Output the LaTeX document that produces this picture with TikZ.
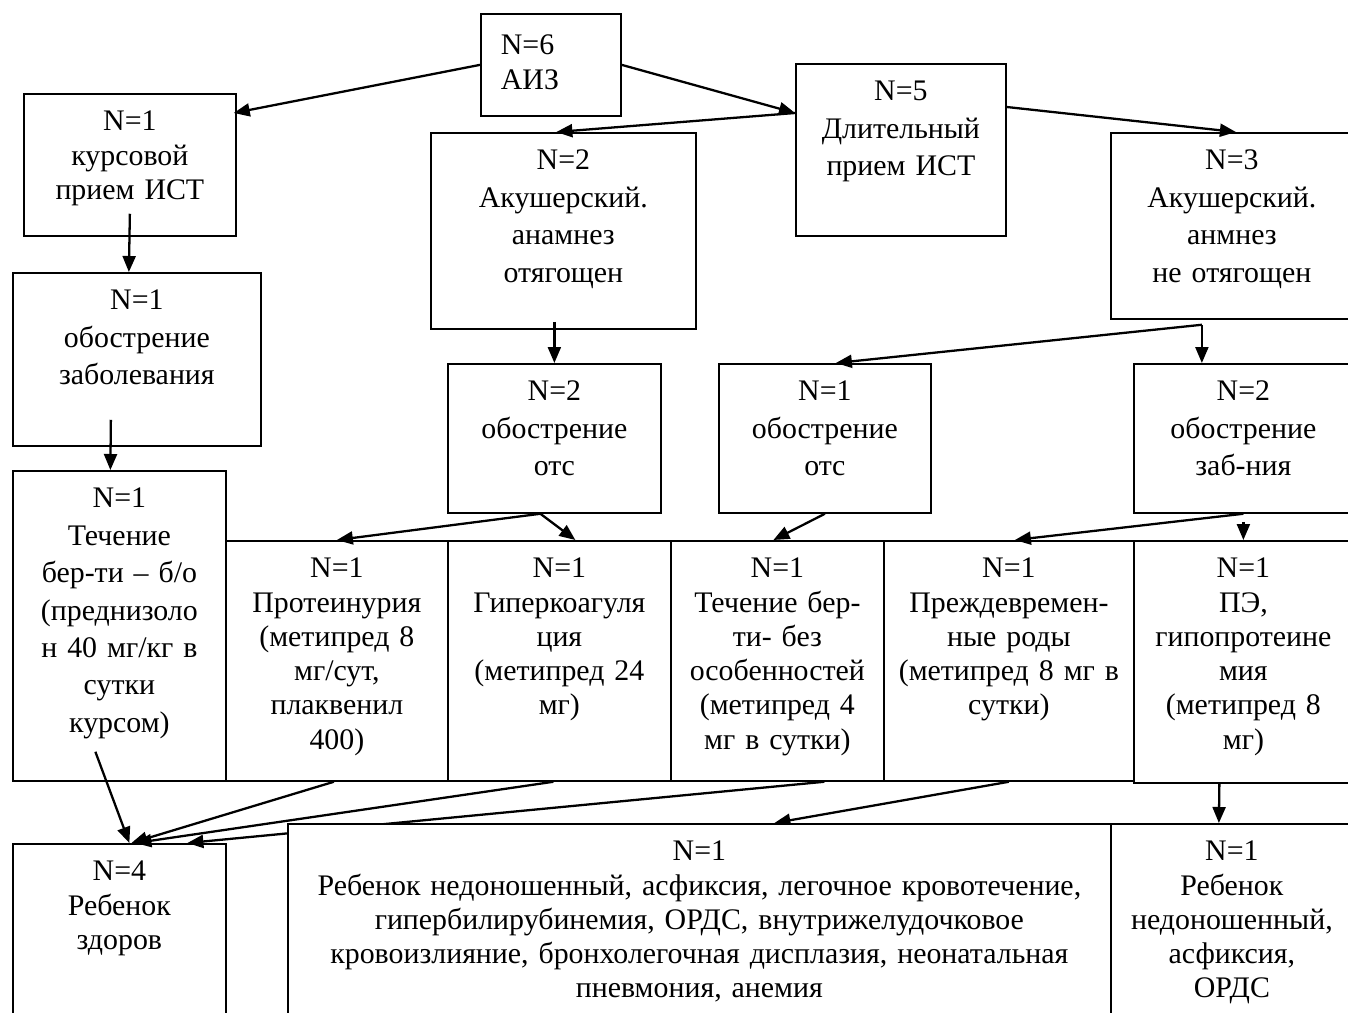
\documentclass[tikz,border=0pt]{standalone}
\usepackage{fontspec}
\setmainfont{Liberation Serif}
\usetikzlibrary{calc,arrows.meta,backgrounds}

\tikzset{
  blk/.style 2 args={draw, line width=1pt, anchor=north west,
    inner xsep=0pt, inner ysep=0.24cm, text width=#1*0.02cm,
    text height=0.5cm, text depth=#2*0.02cm-0.98cm, align=center,
    font=\fontsize{17}{19.5}\selectfont},
  wide/.style={font=\fontsize{17}{21.3}\selectfont},
  arr/.style={line width=1.3pt, -{Triangle[length=0.32cm,width=0.26cm]}}
}

\begin{document}
\begin{tikzpicture}[x=0.02cm, y=-0.02cm]
\useasboundingbox (0,0) rectangle (1348,1013);
\clip (0,0) rectangle (1348,1013);

% top
\node[blk={100}{102}, inner xsep=0.4cm, align=left, text height=0.58cm, text depth=0.98cm] (aiz) at (480,13) {N=6\\АИЗ};
\node[blk={212}{142}] (kurs) at (23,93) {N=1\\курсовой\\прием ИСТ};
\node[blk={210}{172}, wide] (dlit) at (795,63) {N=5\\Длительный\\прием ИСТ};
\node[blk={265}{196}, wide] (akusha) at (430,132) {N=2\\Акушерский.\\анамнез\\отягощен};
\node[blk={242}{186}, wide] (akushb) at (1110,132) {N=3\\Акушерский.\\анмнез\\не отягощен};
\node[blk={248}{173}, wide] (obostr) at (12,272) {N=1\\обострение\\заболевания};

% обострения
\node[blk={213}{149}, wide] (otsa) at (447,363) {N=2\\обострение\\отс};
\node[blk={212}{149}, wide] (otsb) at (718,363) {N=1\\обострение\\отс};
\node[blk={219}{149}, wide] (zab) at (1133,363) {N=2\\обострение\\заб-ния};

% течение
\node[blk={213}{310}, wide] (techa) at (12,470) {N=1\\Течение\\бер-ти – б/о\\(преднизоло\\н 40 мг/кг в\\сутки\\курсом)};
\node[blk={222}{240}] (prot) at (225,540) {N=1\\Протеинурия\\(метипред 8\\мг/сут,\\плаквенил\\400)};
\node[blk={223}{240}] (giper) at (447,540) {N=1\\Гиперкоагуля\\ция\\(метипред 24\\мг)};
\node[blk={213}{240}] (techb) at (670,540) {N=1\\Течение бер-\\ти- без\\особенностей\\(метипред 4\\мг в сутки)};
\node[blk={250}{240}] (prezh) at (883,540) {N=1\\Преждевремен-\\ные роды\\(метипред 8 мг в\\сутки)};
\node[blk={219}{242}] (pe) at (1133,540) {N=1\\ПЭ,\\гипопротеине\\мия\\(метипред 8\\мг)};

% исход
\node[blk={213}{175}] (zdor) at (12,843) {N=4\\Ребенок\\здоров};
\node[blk={823}{195}, fill=white] (nedona) at (287,823) {N=1\\Ребенок недоношенный, асфиксия, легочное кровотечение,\\гипербилирубинемия, ОРДС, внутрижелудочковое\\кровоизлияние, бронхолегочная дисплазия, неонатальная\\пневмония, анемия};
\node[blk={242}{195}] (nedonb) at (1110,823) {N=1\\Ребенок\\недоношенный,\\асфиксия,\\ОРДС};

\begin{scope}[on background layer]
\draw[arr] (aiz.west) -- ($(kurs.north east)+(-3,20)$);
\draw[arr] (aiz.east) -- ($(dlit.north west)+(0,50)$);
\draw[arr] ($(dlit.north west)+(0,50)$) -- ($(akusha.north)+(-7,0)$);
\draw[arr] ($(dlit.north east)+(0,44)$) -- ($(akushb.north)+(4,0)$);
\draw[arr] ($(kurs.south)+(0,-23)$) -- ($(obostr.north)+(-8,0)$);
\draw[arr] ($(obostr.south)+(-26,-27)$) -- ($(techa.north)+(-9,0)$);
\draw[arr] ($(akusha.south)+(-9,-8)$) -- (otsa.north);
\coordinate (forkb) at ($(akushb.south)+(-30,5)$);
\draw[arr] (forkb) -- (zab.north -| forkb);
\draw[arr] (forkb) -- ($(otsb.north)+(11,0)$);
\coordinate (forka) at ($(otsa.south)+(-14,0)$);
\draw[arr] (forka) -- (prot.north);
\draw[arr] (forka) -- ($(giper.north)+(16,0)$);
\draw[arr] (otsb.south) -- ($(techb.north)+(-4,0)$);
\draw[arr] (zab.south) -- ($(prezh.north)+(6,0)$);
\draw[arr] ($(zab.south)+(0,8)$) -- (pe.north);
\draw[arr] ($(techa.south)+(-24,-30)$) -- ($(zdor.north)+(10,0)$);
\draw[arr] ($(prot.south)+(-3,0)$) -- ($(zdor.north)+(12,0)$);
\draw[arr] ($(giper.south)+(-6,0)$) -- ($(zdor.north)+(16,0)$);
\draw[arr] ($(techb.south)+(47,0)$) -- ($(zdor.north)+(68,0)$);
\draw[arr] (prezh.south) -- ($(nedona.north)+(75,0)$);
\draw[arr] ($(pe.south)+(-24,0)$) -- ($(nedonb.north)+(-13,0)$);
\end{scope}
\end{tikzpicture}
\end{document}
